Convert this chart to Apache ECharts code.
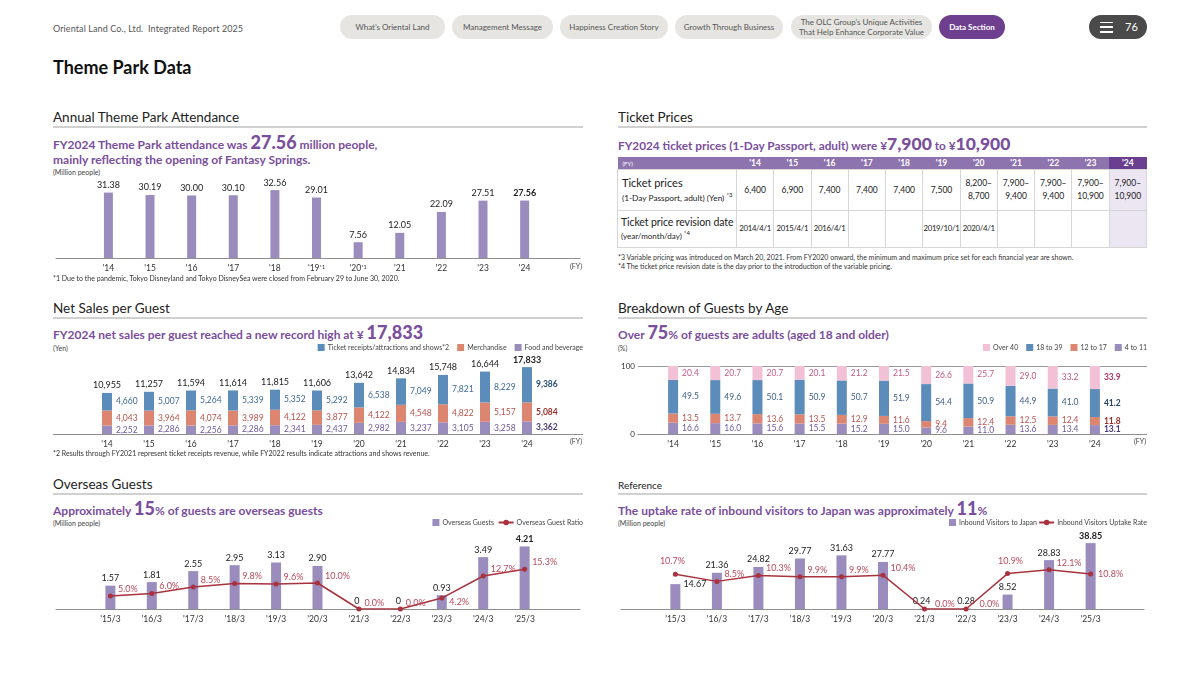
<!DOCTYPE html>
<html><head><meta charset="utf-8">
<script src="https://cdn.jsdelivr.net/npm/echarts@6/dist/echarts.min.js"></script>
<style>
body{margin:0;width:1200px;height:676px;position:relative;background:#fff;font-family:Lato,"Noto Sans",sans-serif;overflow:hidden;color:#222}
.t{position:absolute;white-space:nowrap;line-height:1}
.pill{position:absolute;top:15px;height:24px;border-radius:12px;background:#e6e5e1;color:#555;font-size:8px;display:flex;align-items:center;justify-content:center;text-align:center;line-height:1.25}
.sec{position:absolute;font-size:13.5px;line-height:1;white-space:nowrap;color:#222}
.rule{position:absolute;height:2px;background:#d0d0d0}
.sub{position:absolute;font-size:12px;font-weight:700;color:#7a4f9c;line-height:15px;white-space:nowrap}
.sub b{font-size:18px}
.unit{position:absolute;font-size:7px;color:#444;line-height:1;white-space:nowrap}
.note{position:absolute;font-size:7px;color:#333;line-height:1;white-space:nowrap}
.chart{position:absolute}
#tbl{position:absolute;left:617px;top:157px;width:530px;border-collapse:collapse;table-layout:fixed}
#tbl td{border:1px solid #d6d6d6;padding:0;text-align:center;font-size:8.5px;color:#222;line-height:1.5}
#tbl th{background:#8e74ae;color:#fff;height:12px;font-size:8.5px;font-weight:700;padding:0;border:none}
#tbl th.cur{background:#6b3f8f}
#tbl td.cur{background:#ece6f2}
</style></head>
<body>
<div class="t" style="left:53px;top:24px;font-size:9px;color:#555;letter-spacing:0.1px">Oriental Land Co., Ltd.&nbsp;&nbsp;Integrated Report 2025</div>
<div class="pill" style="left:340px;width:105px">What’s Oriental Land</div>
<div class="pill" style="left:452px;width:101px">Management Message</div>
<div class="pill" style="left:560px;width:108px">Happiness Creation Story</div>
<div class="pill" style="left:675px;width:108px">Growth Through Business</div>
<div class="pill" style="left:791px;width:141px">The OLC Group’s Unique Activities<br>That Help Enhance Corporate Value</div>
<div class="pill" style="left:939px;width:66px;background:#6d3f8e;color:#fff;font-weight:700">Data Section</div>
<div class="pill" style="left:1089px;width:58px;background:#4a4a4a;color:#fff;font-size:11px;justify-content:flex-start">
  <div style="margin-left:11px;width:13px;height:11px;display:flex;flex-direction:column;justify-content:space-between">
    <div style="height:1.5px;background:#fff"></div><div style="height:1.5px;background:#fff"></div><div style="height:1.5px;background:#fff"></div></div>
  <span style="margin-left:12px">76</span></div>
<div class="t" style="left:53px;top:58px;font-size:18px;font-weight:700;color:#111">Theme Park Data</div>

<!-- Attendance -->
<div class="sec" style="left:53px;top:111px">Annual Theme Park Attendance</div>
<div class="rule" style="left:53px;top:126px;width:530px"></div>
<div class="sub" style="left:53px;top:134.5px">FY2024 Theme Park attendance was <b>27.56</b> million people,<br>mainly reflecting the opening of Fantasy Springs.</div>
<div class="unit" style="left:53px;top:168.5px">(Million people)</div>
<div id="cA" class="chart" style="left:53px;top:160px;width:530px;height:116px"></div>
<div class="unit" style="left:570px;top:262.5px">(FY)</div>
<div class="note" style="left:53px;top:274.5px">*1 Due to the pandemic, Tokyo Disneyland and Tokyo DisneySea were closed from February 29 to June 30, 2020.</div>

<!-- Ticket -->
<div class="sec" style="left:618px;top:111px">Ticket Prices</div>
<div class="rule" style="left:618px;top:126px;width:529px"></div>
<div class="sub" style="left:618px;top:135.5px;font-size:11.8px">FY2024 ticket prices (1-Day Passport, adult) were ¥<b style="font-size:17.5px">7,900</b> to ¥<b style="font-size:17.5px">10,900</b></div>
<table id="tbl"></table>
<div class="note" style="left:618px;top:253.5px">*3 Variable pricing was introduced on March 20, 2021. From FY2020 onward, the minimum and maximum price set for each financial year are shown.</div>
<div class="note" style="left:618px;top:262.5px">*4 The ticket price revision date is the day prior to the introduction of the variable pricing.</div>

<!-- Net sales -->
<div class="sec" style="left:53px;top:302px">Net Sales per Guest</div>
<div class="rule" style="left:53px;top:317px;width:530px"></div>
<div class="sub" style="left:53px;top:324.5px">FY2024 net sales per guest reached a new record high at ¥ <b>17,833</b></div>
<div class="unit" style="left:53px;top:344.5px">(Yen)</div>
<div id="cB" class="chart" style="left:53px;top:340px;width:530px;height:110px"></div>
<div class="unit" style="left:570px;top:437.5px">(FY)</div>
<div class="note" style="left:53px;top:449.5px">*2 Results through FY2021 represent ticket receipts revenue, while FY2022 results indicate attractions and shows revenue.</div>

<!-- Age -->
<div class="sec" style="left:618px;top:302px">Breakdown of Guests by Age</div>
<div class="rule" style="left:618px;top:317px;width:529px"></div>
<div class="sub" style="left:618px;top:324.5px">Over <b>75</b>% of guests are adults (aged 18 and older)</div>
<div class="unit" style="left:618px;top:344.5px">(%)</div>
<div id="cC" class="chart" style="left:618px;top:340px;width:529px;height:110px"></div>
<div class="unit" style="left:1134px;top:437.5px">(FY)</div>

<!-- Overseas -->
<div class="sec" style="left:53px;top:478px">Overseas Guests</div>
<div class="rule" style="left:53px;top:493px;width:530px"></div>
<div class="sub" style="left:53px;top:500.5px">Approximately <b>15</b>% of guests are overseas guests</div>
<div class="unit" style="left:53px;top:519.5px">(Million people)</div>
<div id="cD" class="chart" style="left:53px;top:515px;width:530px;height:112px"></div>

<!-- Inbound -->
<div class="t" style="left:618px;top:480px;font-size:10px;color:#222">Reference</div>
<div class="rule" style="left:618px;top:493px;width:529px"></div>
<div class="sub" style="left:618px;top:500.5px">The uptake rate of inbound visitors to Japan was approximately <b>11</b>%</div>
<div class="unit" style="left:618px;top:519.5px">(Million people)</div>
<div id="cE" class="chart" style="left:618px;top:515px;width:529px;height:112px"></div>

<script>
// ---------- data ----------
const fyLabels = ["'14","'15","'16","'17","'18","'19","'20","'21","'22","'23","'24"];
const attendanceLabels = ["'14","'15","'16","'17","'18","'19{s|*1}","'20{s|*1}","'21","'22","'23","'24"];
const attendance = [31.38, 30.19, 30.00, 30.10, 32.56, 29.01, 7.56, 12.05, 22.09, 27.51, 27.56];

const ticketYears = ["'14","'15","'16","'17","'18","'19","'20","'21","'22","'23","'24"];
const ticketPrices = ["6,400","6,900","7,400","7,400","7,400","7,500","8,200–<br>8,700","7,900–<br>9,400","7,900–<br>9,400","7,900–<br>10,900","7,900–<br>10,900"];
const revisionDates = ["2014/4/1","2015/4/1","2016/4/1","","","2019/10/1","2020/4/1","","","",""];

const salesTicket = [4660, 5007, 5264, 5339, 5352, 5292, 6538, 7049, 7821, 8229, 9386];
const salesMerch  = [4043, 3964, 4074, 3989, 4122, 3877, 4122, 4548, 4822, 5157, 5084];
const salesFood   = [2252, 2286, 2256, 2286, 2341, 2437, 2982, 3237, 3105, 3258, 3362];
const salesTotal  = [10955, 11257, 11594, 11614, 11815, 11606, 13642, 14834, 15748, 16644, 17833];

const ageOver40 = [20.4, 20.7, 20.7, 20.1, 21.2, 21.5, 26.6, 25.7, 29.0, 33.2, 33.9];
const age18to39 = [49.5, 49.6, 50.1, 50.9, 50.7, 51.9, 54.4, 50.9, 44.9, 41.0, 41.2];
const age12to17 = [13.5, 13.7, 13.6, 13.5, 12.9, 11.6, 9.4, 12.4, 12.5, 12.4, 11.8];
const age4to11  = [16.6, 16.0, 15.6, 15.5, 15.2, 15.0, 9.6, 11.0, 13.6, 13.4, 13.1];

const monthLabels = ["'15/3","'16/3","'17/3","'18/3","'19/3","'20/3","'21/3","'22/3","'23/3","'24/3","'25/3"];
const overseasGuests = [1.57, 1.81, 2.55, 2.95, 3.13, 2.90, 0, 0, 0.93, 3.49, 4.21];
const overseasRatio  = [5.0, 6.0, 8.5, 9.8, 9.6, 10.0, 0.0, 0.0, 4.2, 12.7, 15.3];
const inboundVisitors = [14.67, 21.36, 24.82, 29.77, 31.63, 27.77, 0.24, 0.28, 8.52, 28.83, 38.85];
const uptakeRate      = [10.7, 8.5, 10.3, 9.9, 9.9, 10.4, 0.0, 0.0, 10.9, 12.1, 10.8];

// ---------- styles ----------
const FONT = 'Lato, "Noto Sans", sans-serif';
const C_PURPLE = '#9b8cbe', C_BLUE = '#5b8cba', C_SALMON = '#dc8672', C_PINK = '#f3c1d5', C_LINE = '#a8323e';
const LAST = 10;
const LEGEND_TEXT = { fontSize: 7, color: '#444', fontFamily: FONT, padding: [0, 0, 0, -2] };

// ---------- table ----------
(function(){
  const t = document.getElementById('tbl');
  let h = '<colgroup><col style="width:119px">' + ticketYears.map(()=>'<col>').join('') + '</colgroup>';
  h += '<tr><th style="text-align:left;padding-left:5px;font-size:6px;font-weight:400">(FY)</th>' +
       ticketYears.map((y,i)=>'<th class="'+(i===LAST?'cur':'')+'">'+y+'</th>').join('') + '</tr>';
  h += '<tr style="height:41px"><td style="text-align:left;padding-left:4px;line-height:1.3;white-space:nowrap"><span style="font-size:11px">Ticket prices</span><br><span style="font-size:8.3px">(1-Day Passport, adult) (Yen) <sup style="font-size:6px">*3</sup></span></td>' +
       ticketPrices.map((p,i)=>'<td class="'+(i===LAST?'cur':'')+'">'+p+'</td>').join('') + '</tr>';
  h += '<tr style="height:37px"><td style="text-align:left;padding-left:3px;line-height:1.3;white-space:nowrap"><span style="font-size:10.5px;letter-spacing:-0.1px">Ticket price revision date</span><br><span style="font-size:8px">(year/month/day) <sup style="font-size:6px">*4</sup></span></td>' +
       revisionDates.map((d,i)=>'<td class="'+(i===LAST?'cur':'')+'" style="font-size:7.8px;letter-spacing:-0.3px;white-space:nowrap">'+d+'</td>').join('') + '</tr>';
  t.innerHTML = h;
})();

// ---------- helpers ----------
const fmtInt = v => v.toLocaleString('en-US');
const fmt1 = v => v.toFixed(1);
function idxAxis(labels, firstCenter, step, gridWidth, extraLabel) {
  return {
    type: 'value',
    min: -firstCenter / step,
    max: (gridWidth - firstCenter) / step,
    minInterval: 1, maxInterval: 1, splitNumber: 20,
    axisLine: { show: true, lineStyle: { color: '#8f8f8f', width: 1.2 } },
    axisTick: { show: false },
    splitLine: { show: false },
    axisLabel: Object.assign({
      fontFamily: FONT, fontSize: 8.5, color: '#333', margin: 6,
      showMinLabel: true, showMaxLabel: true,
      formatter: v => { const r = Math.round(v); return (Math.abs(v - r) < 1e-6 && r >= 0 && r < labels.length) ? labels[r] : ''; }
    }, extraLabel || {})
  };
}
function baseLineAxis() {
  return { gridIndex: 0, type: 'value', min: 0, max: 1, axisLine: { show: true, lineStyle: { color: '#8f8f8f', width: 1.2 } },
           axisTick: { show: false }, axisLabel: { show: false }, splitLine: { show: false } };
}
function catAxis(labels) {
  return { gridIndex: 1, type: 'category', data: labels, axisLine: { show: false }, axisTick: { show: false },
           axisLabel: { fontFamily: FONT, fontSize: 8.5, color: '#333', margin: 6 } };
}
function stackSeries(name, arr, color, labelColor, boldColor, fmt) {
  return {
    name, type: 'bar', stack: 's', barWidth: 10, xAxisIndex: 1, yAxisIndex: 1,
    data: arr.map((v, i) => i === LAST ? { value: v, label: { fontWeight: 'bold', color: boldColor } } : v),
    itemStyle: { color },
    label: { show: true, position: 'right', distance: 4, fontSize: 8.5, fontFamily: FONT, color: labelColor,
             formatter: p => fmt(p.value) }
  };
}

// ---------- A: attendance ----------
const cA = echarts.init(document.getElementById('cA'));
cA.setOption({
  animation: false,
  grid: { left: 0, right: 0, top: 0, bottom: 18 },
  xAxis: idxAxis(attendanceLabels, 53, 42.1, 530, { rich: { s: { fontSize: 5.5, verticalAlign: 'top', color: '#333', fontFamily: FONT } } }),
  yAxis: { type: 'value', min: 0, max: 47, show: false },
  series: [{
    type: 'bar', barWidth: 9, itemStyle: { color: C_PURPLE },
    data: attendance.map((v, i) => i === LAST ? { value: [i, v], label: { fontWeight: 'bold' } } : { value: [i, v] }),
    label: { show: true, position: 'top', distance: 3, fontSize: 9, fontFamily: FONT, color: '#222', formatter: p => p.value[1].toFixed(2) }
  }]
});

// ---------- B: net sales ----------
const cB = echarts.init(document.getElementById('cB'));
cB.setOption({
  animation: false,
  legend: { right: 0, top: 4, padding: 0, itemWidth: 7, itemHeight: 7, itemGap: 8, icon: 'rect', textStyle: LEGEND_TEXT,
            data: ['Ticket receipts/attractions and shows*2', 'Merchandise', 'Food and beverage'] },
  grid: [{ left: 0, right: 0, top: 19, bottom: 16 }, { left: 33, width: 462, top: 19, bottom: 16 }],
  xAxis: [baseLineAxis(), catAxis(fyLabels)],
  yAxis: [{ gridIndex: 0, type: 'value', min: 0, max: 1, show: false },
          { gridIndex: 1, type: 'value', min: 0, max: 20000, show: false }],
  series: [
    stackSeries('Food and beverage', salesFood, C_PURPLE, '#6f5a9e', '#4b3a7a', fmtInt),
    stackSeries('Merchandise', salesMerch, C_SALMON, '#b9544c', '#9a2e2a', fmtInt),
    stackSeries('Ticket receipts/attractions and shows*2', salesTicket, C_BLUE, '#3f6a98', '#2a4f7a', fmtInt),
    { name: 'total', type: 'bar', stack: 's', barWidth: 10, silent: true, xAxisIndex: 1, yAxisIndex: 1,
      data: salesTotal.map((v, i) => i === LAST ? { value: 0, label: { fontWeight: 'bold' } } : 0),
      itemStyle: { color: 'rgba(0,0,0,0)' },
      label: { show: true, position: 'top', distance: 3, fontSize: 9, fontFamily: FONT, color: '#222', formatter: p => fmtInt(salesTotal[p.dataIndex]) } }
  ]
});

// ---------- C: age ----------
const cC = echarts.init(document.getElementById('cC'));
cC.setOption({
  animation: false,
  legend: { right: 0, top: 4, padding: 0, itemWidth: 7, itemHeight: 7, itemGap: 8, icon: 'rect', textStyle: LEGEND_TEXT,
            data: ['Over 40', '18 to 39', '12 to 17', '4 to 11'] },
  grid: [{ left: 12, right: 0, top: 26, bottom: 16 }, { left: 34, width: 464, top: 26, bottom: 16 }],
  xAxis: [baseLineAxis(), catAxis(fyLabels)],
  yAxis: [{ gridIndex: 0, type: 'value', min: 0, max: 100, interval: 100,
            axisLine: { show: false }, axisTick: { show: false },
            axisLabel: { fontSize: 8, color: '#333', margin: 3, fontFamily: FONT },
            splitLine: { show: true, lineStyle: { color: '#9a9a9a', width: 1 } } },
          { gridIndex: 1, type: 'value', min: 0, max: 100, show: false }],
  series: [
    stackSeries('4 to 11', age4to11, C_PURPLE, '#6f5a9e', '#4b3a7a', fmt1),
    stackSeries('12 to 17', age12to17, C_SALMON, '#b9544c', '#9a2e2a', fmt1),
    stackSeries('18 to 39', age18to39, C_BLUE, '#3f5f88', '#2a4466', fmt1),
    stackSeries('Over 40', ageOver40, C_PINK, '#c45a85', '#a83a68', fmt1)
  ]
});

// ---------- D / E: combo ----------
function comboOption(barName, lineName, bars, rates, barMax, rateMax, barLabelTweak, rateLabelTweak, legendRight1, firstCenter, step, width) {
  return {
    animation: false,
    legend: [
      { right: legendRight1, top: 4, padding: 0, itemWidth: 7, itemHeight: 7, icon: 'rect', textStyle: LEGEND_TEXT, data: [barName] },
      { right: 0, top: 4, padding: 0, itemWidth: 15, itemHeight: 7, textStyle: LEGEND_TEXT, data: [lineName] }
    ],
    grid: { left: 0, right: 0, top: 16, bottom: 18 },
    xAxis: idxAxis(monthLabels, firstCenter, step, width),
    yAxis: [{ type: 'value', min: 0, max: barMax, show: false }, { type: 'value', min: 0, max: rateMax, show: false }],
    series: [
      { name: barName, type: 'bar', barWidth: 10, itemStyle: { color: C_PURPLE },
        data: bars.map((v, i) => Object.assign({ value: [i, v] }, barLabelTweak[i] ? { label: barLabelTweak[i] } : {})),
        label: { show: true, position: 'top', distance: 3, fontSize: 9, fontFamily: FONT, color: '#222',
                 formatter: p => p.value[1] === 0 ? '0' : p.value[1].toFixed(2) } },
      { name: lineName, type: 'line', yAxisIndex: 1, symbol: 'circle', symbolSize: 5,
        lineStyle: { color: C_LINE, width: 1.5 }, itemStyle: { color: C_LINE },
        data: rates.map((v, i) => Object.assign({ value: [i, v] }, rateLabelTweak[i] ? { label: rateLabelTweak[i] } : {})),
        label: { show: true, position: 'right', distance: 5, offset: [0, -7], fontSize: 9, fontFamily: FONT, color: '#b8495b',
                 formatter: p => p.value[1].toFixed(1) + '%' } }
    ]
  };
}
const cD = echarts.init(document.getElementById('cD'));
cD.setOption(comboOption('Overseas Guests', 'Overseas Guest Ratio', overseasGuests, overseasRatio, 5.25, 30,
  { 6: { offset: [-2, 0] }, 7: { offset: [-2, 0] }, 10: { fontWeight: 'bold' } },
  { 6: { offset: [-2, -6] }, 7: { offset: [-2, -6] }, 8: { offset: [0, 4] } }, 89, 55, 41.9, 530));

const cE = echarts.init(document.getElementById('cE'));
cE.setOption(comboOption('Inbound Visitors to Japan', 'Inbound Visitors Uptake Rate', inboundVisitors, uptakeRate, 46, 24,
  { 0: { position: 'right', offset: [0, -12] }, 6: { offset: [-3, 0] }, 10: { fontWeight: 'bold' } },
  { 0: { position: 'top', offset: [-3, -1] }, 6: { offset: [3, -5] }, 7: { offset: [6, -5] }, 8: { position: 'top', offset: [3, 0] }, 10: { offset: [0, 0] } },
  110, 55, 42.0, 529));
</script>
</body></html>
